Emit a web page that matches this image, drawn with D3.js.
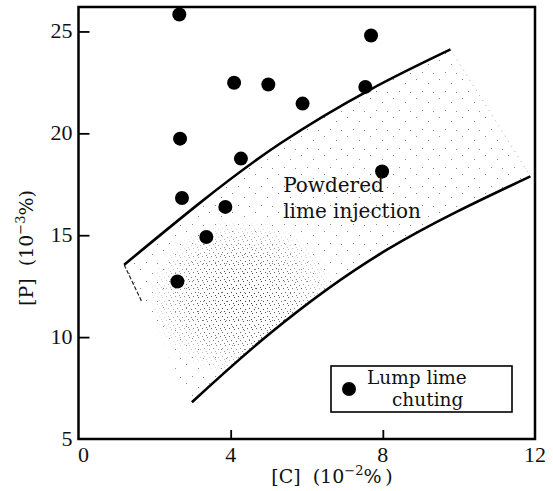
<!DOCTYPE html>
<html>
<head>
<meta charset="utf-8">
<script src="https://cdn.jsdelivr.net/npm/d3@7"></script>
<style>
  body { margin: 0; background: #fff; }
  svg text { font-family: "DejaVu Serif", "Liberation Serif", serif; fill: #111; }
  svg text.tick { font-family: "Liberation Serif", serif; }
</style>
</head>
<body>
<div id="chart"></div>
<script>
// lump lime chuting points: [C] (10^-2 %), [P] (10^-3 %)
const lumpC = [2.65, 7.69, 4.09, 4.99, 7.54, 5.89, 2.67, 4.27, 7.98, 2.72, 3.86, 3.36, 2.60];
const lumpP = [25.83, 24.80, 22.48, 22.40, 22.28, 21.46, 19.74, 18.76, 18.13, 16.83, 16.39, 14.91, 12.73];

// boundaries of the powdered lime injection band
const upperC = [1.2, 3.2, 5.3, 7.67, 9.78];
const upperP = [13.55, 16.6, 19.5, 22.15, 24.12];
const lowerC = [2.98, 5.04, 8.11, 11.88];
const lowerP = [6.8, 10.19, 14.29, 17.89];
const leftEdgeC = [1.2, 1.66];
const leftEdgeP = [13.55, 11.75];

const xTicks = [0, 4, 8, 12];
const yTicks = [5, 10, 15, 20, 25];

const width = 553, height = 491;
const margin = { left: 78.5, right: 18, top: 7, bottom: 52 };

const svg = d3.select('#chart').append('svg')
  .attr('width', width)
  .attr('height', height);

const x = d3.scaleLinear().domain([0, 12]).range([margin.left, width - margin.right]);
const y = d3.scaleLinear().domain([5, 26.2]).range([height - margin.bottom, margin.top]);

const upper = upperC.map(function(c, i) { return [c, upperP[i]]; });
const lower = lowerC.map(function(c, i) { return [c, lowerP[i]]; });

const line = d3.line()
  .x(function(d) { return x(d[0]); })
  .y(function(d) { return y(d[1]); })
  .curve(d3.curveNatural);

// stipple patterns
const defs = svg.append('defs');
const sparse = defs.append('pattern')
  .attr('id', 'sparse')
  .attr('patternUnits', 'userSpaceOnUse')
  .attr('width', 23).attr('height', 19);
[[2, 3], [14, 7], [8, 15], [19, 16]].forEach(function(p) {
  sparse.append('rect').attr('x', p[0]).attr('y', p[1]).attr('width', 1).attr('height', 1).attr('fill', '#888');
});
const dense = defs.append('pattern')
  .attr('id', 'dense')
  .attr('patternUnits', 'userSpaceOnUse')
  .attr('width', 9).attr('height', 8);
[[0, 1], [4, 0], [6, 4], [2, 5], [8, 7]].forEach(function(p) {
  dense.append('rect').attr('x', p[0]).attr('y', p[1]).attr('width', 1).attr('height', 1).attr('fill', '#333');
});
const grad = defs.append('radialGradient').attr('id', 'fade');
grad.append('stop').attr('offset', '0%').attr('stop-color', '#fff').attr('stop-opacity', 1);
grad.append('stop').attr('offset', '55%').attr('stop-color', '#fff').attr('stop-opacity', 0.7);
grad.append('stop').attr('offset', '100%').attr('stop-color', '#fff').attr('stop-opacity', 0);
defs.append('mask').attr('id', 'denseMask')
  .append('ellipse')
  .attr('cx', x(4.3)).attr('cy', y(11.9))
  .attr('rx', 95).attr('ry', 80)
  .attr('fill', 'url(#fade)');

const bandD = line(upper) + 'L' + line(lower.slice().reverse()).slice(1) +
  'L' + x(leftEdgeC[1]) + ',' + y(leftEdgeP[1]) + 'Z';
defs.append('clipPath').attr('id', 'bandClip')
  .append('path').attr('d', bandD);

const band = svg.append('g').attr('clip-path', 'url(#bandClip)');
band.append('path')
  .attr('d', bandD)
  .attr('fill', 'url(#sparse)');
band.append('rect')
  .attr('x', x(1)).attr('y', y(17))
  .attr('width', x(7.5) - x(1)).attr('height', y(7) - y(17))
  .attr('fill', 'url(#dense)')
  .attr('mask', 'url(#denseMask)');

// band boundaries
svg.append('path')
  .attr('d', line(upper))
  .attr('fill', 'none').attr('stroke', '#000').attr('stroke-width', 2.6);
svg.append('path')
  .attr('d', line(lower))
  .attr('fill', 'none').attr('stroke', '#000').attr('stroke-width', 2.6);
svg.append('line')
  .attr('x1', x(leftEdgeC[0])).attr('y1', y(leftEdgeP[0]))
  .attr('x2', x(leftEdgeC[1])).attr('y2', y(leftEdgeP[1]))
  .attr('stroke', '#222').attr('stroke-width', 1.2).attr('stroke-dasharray', '4,2');
svg.append('line')
  .attr('x1', x(upperC[upperC.length - 1])).attr('y1', y(upperP[upperP.length - 1]))
  .attr('x2', x(lowerC[lowerC.length - 1])).attr('y2', y(lowerP[lowerP.length - 1]))
  .attr('stroke', '#aaa').attr('stroke-width', 1).attr('stroke-dasharray', '1,5');

// frame
svg.append('rect')
  .attr('x', x(0)).attr('y', y(26.2))
  .attr('width', x(12) - x(0)).attr('height', y(5) - y(26.2))
  .attr('fill', 'none').attr('stroke', '#000').attr('stroke-width', 2.5);

// inward ticks
svg.append('g')
  .attr('transform', 'translate(' + x(0) + ',0)')
  .call(d3.axisRight(y).tickValues(yTicks.slice(1)).tickSize(11).tickFormat(''))
  .call(function(g) { g.select('.domain').remove(); g.selectAll('line').attr('stroke-width', 1.8); });
svg.append('g')
  .attr('transform', 'translate(0,' + y(5) + ')')
  .call(d3.axisTop(x).tickValues(xTicks.slice(1, 3)).tickSize(9).tickFormat(''))
  .call(function(g) { g.select('.domain').remove(); g.selectAll('line').attr('stroke-width', 1.8); });

// tick labels
svg.append('g').selectAll('text')
  .data(yTicks)
  .enter()
  .append('text')
    .attr('class', 'tick')
    .attr('x', x(0) - 6)
    .attr('y', function(d) { return y(d) + 7; })
    .attr('text-anchor', 'end')
    .style('font-size', '22px')
    .text(function(d) { return d; });
svg.append('g').selectAll('text')
  .data(xTicks)
  .enter()
  .append('text')
    .attr('class', 'tick')
    .attr('x', function(d) { return d === 0 ? x(d) + 5 : x(d); })
    .attr('y', y(5) + 23)
    .attr('text-anchor', 'middle')
    .style('font-size', '22px')
    .text(function(d) { return d; });

// axis titles
const xt = svg.append('text')
  .attr('x', 332).attr('y', 483)
  .attr('text-anchor', 'middle')
  .style('font-size', '19px');
xt.append('tspan').text('[C]\u00a0\u00a0(10');
xt.append('tspan').attr('dy', -8).style('font-size', '13px').text('\u22122');
xt.append('tspan').attr('dy', 8).text('%\u2009)');

const yt = svg.append('text')
  .attr('transform', 'translate(33,' + 248 + ') rotate(-90)')
  .attr('text-anchor', 'middle')
  .style('font-size', '19px');
yt.append('tspan').text('[P]\u00a0\u00a0(10');
yt.append('tspan').attr('dy', -8).style('font-size', '13px').text('\u22123');
yt.append('tspan').attr('dy', 8).text('%)');

// lump lime points
svg.append('g').selectAll('circle')
  .data(lumpC)
  .enter()
  .append('circle')
    .attr('cx', function(d) { return x(d); })
    .attr('cy', function(d, i) { return y(lumpP[i]); })
    .attr('r', 7)
    .attr('fill', '#000');

// band label
svg.append('text')
  .attr('x', x(5.38)).attr('y', y(17.1))
  .style('font-size', '20px')
  .text('Powdered');
svg.append('text')
  .attr('x', x(5.38)).attr('y', y(15.85))
  .style('font-size', '20px')
  .text('lime injection');

// legend
const legend = svg.append('g');
legend.append('rect')
  .attr('x', 331).attr('y', 366)
  .attr('width', 181).attr('height', 46)
  .attr('fill', '#fff').attr('stroke', '#000').attr('stroke-width', 1.6);
legend.append('circle')
  .attr('cx', 349).attr('cy', 389).attr('r', 7).attr('fill', '#000');
legend.append('text')
  .attr('x', 367).attr('y', 384)
  .style('font-size', '18.5px')
  .text('Lump lime');
legend.append('text')
  .attr('x', 392).attr('y', 406)
  .style('font-size', '18.5px')
  .text('chuting');
</script>
</body>
</html>
